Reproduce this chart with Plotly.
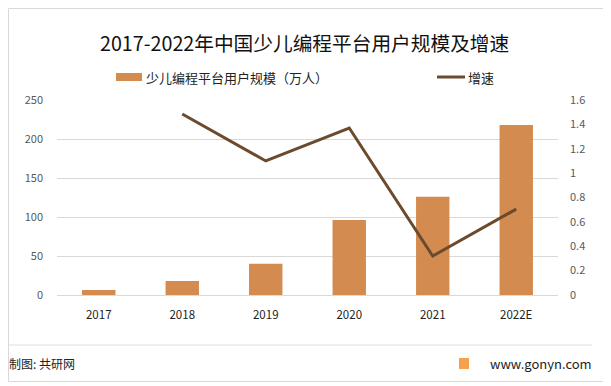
import plotly.graph_objects as go

years = ["2017", "2018", "2019", "2020", "2021", "2022E"]
users = [6.5, 18, 40, 96, 126, 218]
growth_years = ["2018", "2019", "2020", "2021", "2022E"]
growth = [1.485, 1.10, 1.37, 0.32, 0.705]
left_ticks = [0, 50, 100, 150, 200, 250]
right_ticks = [0, 0.2, 0.4, 0.6, 0.8, 1, 1.2, 1.4, 1.6]
right_labels = ["0", "0.2", "0.4", "0.6", "0.8", "1", "1.2", "1.4", "1.6"]

FONT = "Noto Sans CJK SC"
BAR_C = "#D38B4F"
LINE_C = "#6B4A2E"
OFF = 8  # default page body margin in the browser
W, H = 611 - OFF, 386 - OFF
ML, MR, MT, MB = 57 - OFF, 53, 100 - OFF, 91
PW, PH = W - ML - MR, H - MT - MB


def px(x):
    return (x - OFF - ML) / PW


def py(y):
    return (H - MB - (y - OFF)) / PH


fig = go.Figure()
fig.add_trace(go.Bar(x=years, y=users, name="少儿编程平台用户规模（万人）",
                     marker=dict(color=BAR_C, line=dict(width=0)), width=0.4))
fig.add_trace(go.Scatter(x=growth_years, y=growth, name="增速", yaxis="y2",
                         mode="lines", line=dict(color=LINE_C, width=3)))

fig.update_layout(
    width=W, height=H,
    paper_bgcolor="white", plot_bgcolor="white",
    margin=dict(l=ML, r=MR, t=MT, b=MB, autoexpand=False),
    font=dict(family=FONT, size=11, color="#595959"),
    showlegend=False,
    xaxis=dict(type="category", showgrid=False, showline=True, linecolor="#D9D9D9",
               ticks="", tickfont=dict(color="#222222", size=11.5), ticklabelstandoff=9),
    yaxis=dict(range=[0, 250], tickvals=left_ticks, showgrid=True, gridcolor="#D9D9D9",
               zeroline=False, showline=False, ticks="", ticklabelstandoff=13),
    yaxis2=dict(range=[0, 1.6], tickvals=right_ticks, ticktext=right_labels,
                overlaying="y", side="right", showgrid=False, zeroline=False,
                showline=False, ticks="", ticklabelstandoff=11),
)

# title
fig.add_annotation(text="2017-2022年中国少儿编程平台用户规模及增速", xref="paper", yref="paper",
                   x=px(304), y=py(43), xanchor="center", yanchor="middle", showarrow=False,
                   font=dict(size=19.7, color="#111111", family=FONT))

# manual legend
fig.add_shape(type="rect", xref="paper", yref="paper", x0=px(116), x1=px(142),
              y0=py(81), y1=py(73), fillcolor=BAR_C, line=dict(width=0))
fig.add_annotation(text="少儿编程平台用户规模（万人）", xref="paper", yref="paper",
                   x=px(144), y=py(77), xanchor="left", yanchor="middle", showarrow=False,
                   font=dict(size=13, color="#222222", family=FONT))
fig.add_shape(type="line", xref="paper", yref="paper", x0=px(437), x1=px(465),
              y0=py(77), y1=py(77), line=dict(color=LINE_C, width=3))
fig.add_annotation(text="增速", xref="paper", yref="paper",
                   x=px(466), y=py(77), xanchor="left", yanchor="middle", showarrow=False,
                   font=dict(size=13, color="#222222", family=FONT))

# footer
fig.add_shape(type="line", xref="paper", yref="paper", x0=px(9), x1=px(592),
              y0=py(345), y1=py(345), line=dict(color="#DDDDDD", width=1))
fig.add_annotation(text="制图: 共研网", xref="paper", yref="paper", x=px(7), y=py(363),
                   xanchor="left", yanchor="middle", showarrow=False,
                   font=dict(size=12, color="#222222", family=FONT))
fig.add_annotation(text="www.gonyn.com", xref="paper", yref="paper", x=px(594), y=py(363),
                   xanchor="right", yanchor="middle", showarrow=False,
                   font=dict(size=13, color="#222222", family=FONT))
fig.add_shape(type="rect", xref="paper", yref="paper", x0=px(459), x1=px(469),
              y0=py(369), y1=py(358), fillcolor="#F5A04A", line=dict(width=0))
# border
fig.add_shape(type="rect", xref="paper", yref="paper", x0=px(8.5), x1=px(607.5),
              y0=py(381.5), y1=py(8.5), line=dict(color="#D9D9D9", width=1))

fig.write_html("out.html")
